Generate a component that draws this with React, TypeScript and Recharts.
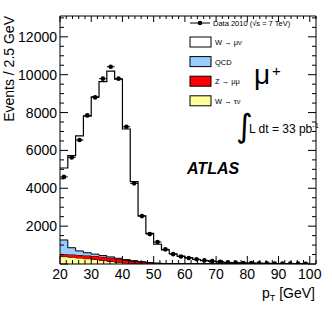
import { Area, ComposedChart, ErrorBar, Scatter, XAxis, YAxis } from 'recharts';

// bin lower edges (GeV), 2.5 GeV wide
const binLow = [
  20, 22.5, 25, 27.5, 30, 32.5, 35, 37.5, 40, 42.5, 45, 47.5, 50, 52.5, 55, 57.5,
  60, 62.5, 65, 67.5, 70, 72.5, 75, 77.5, 80, 82.5, 85, 87.5, 90, 92.5, 95, 97.5,
];
const binWidth = 2.5;
const lastEdge = 100;

// MC stack (events per bin)
const wTauNu = [390, 360, 320, 280, 240, 190, 140, 90, 50, 25, 12, 6, 3, 2, 1, 1, 0, 0, 0, 0, 0, 0, 0, 0, 0, 0, 0, 0, 0, 0, 0, 0];
const zMuMu = [120, 140, 160, 175, 185, 190, 190, 180, 160, 130, 95, 60, 35, 20, 12, 8, 5, 3, 2, 1, 1, 1, 0, 0, 0, 0, 0, 0, 0, 0, 0, 0];
const qcd = [760, 360, 210, 140, 95, 65, 45, 30, 20, 14, 10, 7, 5, 4, 3, 2, 2, 1, 1, 1, 1, 0, 0, 0, 0, 0, 0, 0, 0, 0, 0, 0];
const wMuNu = [
  3800, 4860, 6080, 7215, 8310, 9185, 9815, 9470, 6900, 4180, 2430, 1550, 1000, 715, 525, 410,
  325, 235, 178, 138, 103, 79, 65, 52, 44, 37, 31, 27, 23, 20, 17, 15,
];

// data 2010
const dataCounts = [
  4600, 5630, 6550, 7850, 8800, 9790, 10420, 9790, 7250, 4260, 2530, 1580, 1160, 775, 520, 400,
  320, 250, 190, 150, 110, 85, 70, 55, 45, 40, 32, 28, 24, 20, 18, 15,
];

const xMajorTicks = [20, 30, 40, 50, 60, 70, 80, 90, 100];
const xMinorTicks = [
  22, 24, 26, 28, 32, 34, 36, 38, 42, 44, 46, 48, 52, 54, 56, 58, 62, 64, 66, 68,
  72, 74, 76, 78, 82, 84, 86, 88, 92, 94, 96, 98, 102,
];
const yMajorTicks = [0, 2000, 4000, 6000, 8000, 10000, 12000];
const yMinorTicks = [
  500, 1000, 1500, 2500, 3000, 3500, 4500, 5000, 5500, 6500, 7000, 7500, 8500, 9000, 9500,
  10500, 11000, 11500, 12500, 13000,
];

const legendRows = [
  { label: 'W → μν', color: '#ffffff' },
  { label: 'QCD', color: '#99ccff' },
  { label: 'Z → μμ', color: '#ff0000' },
  { label: 'W → τν', color: '#ffff99' },
];

const FONT = '"Liberation Sans", Arial, sans-serif';

const stackRows = [
  ...binLow.map((x, i) => ({ x, tau: wTauNu[i], z: zMuMu[i], qcd: qcd[i], w: wMuNu[i] })),
  { x: lastEdge, tau: wTauNu[31], z: zMuMu[31], qcd: qcd[31], w: wMuNu[31] },
];
const dataPoints = binLow.map((x, i) => ({ x: x + binWidth / 2, y: dataCounts[i], xerr: binWidth / 2 }));

const xTicks = [...xMajorTicks, ...xMinorTicks].sort((a, b) => a - b);
const yTicks = [...yMajorTicks, ...yMinorTicks].sort((a, b) => a - b);

function BottomTick(props: any) {
  const { x, y, payload } = props;
  const major = xMajorTicks.includes(payload.value);
  return (
    <g>
      <line x1={x} x2={x} y1={y} y2={y - (major ? 8 : 4)} stroke="#000" />
      {major && (
        <text x={x} y={y + 15} textAnchor="middle" fontSize={14} fontFamily={FONT} fill="#000">
          {payload.value}
        </text>
      )}
    </g>
  );
}

function TopTick(props: any) {
  const { x, y, payload } = props;
  const major = xMajorTicks.includes(payload.value);
  return <line x1={x} x2={x} y1={y} y2={y + (major ? 6 : 3)} stroke="#000" />;
}

function LeftTick(props: any) {
  const { x, y, payload } = props;
  const major = yMajorTicks.includes(payload.value);
  return (
    <g>
      <line x1={x} x2={x + (major ? 8 : 4)} y1={y} y2={y} stroke="#000" />
      {major && payload.value > 0 && (
        <text x={x - 3} y={y + 5} textAnchor="end" fontSize={14} fontFamily={FONT} fill="#000">
          {payload.value}
        </text>
      )}
    </g>
  );
}

function RightTick(props: any) {
  const { x, y, payload } = props;
  const major = yMajorTicks.includes(payload.value);
  return <line x1={x} x2={x - (major ? 8 : 4)} y1={y} y2={y} stroke="#000" />;
}

export default function App() {
  return (
    <div style={{ position: 'absolute', left: 0, top: 0, width: 332, height: 316, background: '#fff' }}>
      <ComposedChart
        width={332}
        height={316}
        data={stackRows}
        margin={{ top: 15, right: 15, bottom: 51, left: 59 }}
      >
        <XAxis
          dataKey="x"
          type="number"
          domain={[20, 102]}
          allowDataOverflow
          ticks={xTicks}
          interval={0}
          height={1}
          tickSize={0}
          tickMargin={0}
          tickLine={false}
          axisLine={{ stroke: '#000' }}
          tick={<BottomTick />}
        />
        <XAxis
          xAxisId="top"
          orientation="top"
          dataKey="x"
          type="number"
          domain={[20, 102]}
          allowDataOverflow
          ticks={xTicks}
          interval={0}
          height={1}
          tickSize={0}
          tickMargin={0}
          tickLine={false}
          axisLine={{ stroke: '#000' }}
          tick={<TopTick />}
        />
        <YAxis
          type="number"
          domain={[0, 13100]}
          allowDataOverflow
          ticks={yTicks}
          interval={0}
          width={1}
          tickSize={0}
          tickMargin={0}
          tickLine={false}
          axisLine={{ stroke: '#000' }}
          tick={<LeftTick />}
        />
        <YAxis
          yAxisId="right"
          orientation="right"
          type="number"
          domain={[0, 13100]}
          allowDataOverflow
          ticks={yTicks}
          interval={0}
          width={1}
          tickSize={0}
          tickMargin={0}
          tickLine={false}
          axisLine={{ stroke: '#000' }}
          tick={<RightTick />}
        />
        <Area type="stepAfter" dataKey="tau" stackId="mc" fill="#ffff99" fillOpacity={1} stroke="#000" strokeWidth={1} isAnimationActive={false} />
        <Area type="stepAfter" dataKey="z" stackId="mc" fill="#ff0000" fillOpacity={1} stroke="#000" strokeWidth={1} isAnimationActive={false} />
        <Area type="stepAfter" dataKey="qcd" stackId="mc" fill="#99ccff" fillOpacity={1} stroke="#000" strokeWidth={1} isAnimationActive={false} />
        <Area type="stepAfter" dataKey="w" stackId="mc" fill="#ffffff" fillOpacity={0} stroke="#000" strokeWidth={1.2} isAnimationActive={false} />
        <Scatter
          data={dataPoints}
          dataKey="y"
          fill="#000"
          isAnimationActive={false}
          shape={(p: any) => <circle cx={p.cx} cy={p.cy} r={2.3} fill="#000" />}
        >
          <ErrorBar dataKey="xerr" direction="x" width={0} stroke="#000" strokeWidth={1} />
        </Scatter>
      </ComposedChart>

      <svg width={332} height={316} style={{ position: 'absolute', left: 0, top: 0, pointerEvents: 'none' }} fontFamily={FONT}>
        <text transform="translate(14,16) rotate(-90)" textAnchor="end" fontSize={14} fill="#000">
          Events / 2.5 GeV
        </text>
        <text x={315} y={298} textAnchor="end" fontSize={14} fill="#000">
          p<tspan dy={3} fontSize={9}>T</tspan>
          <tspan dy={-3}> [GeV]</tspan>
        </text>

        <line x1={190} x2={210} y1={23} y2={23} stroke="#000" strokeWidth={1} />
        <circle cx={200} cy={23} r={2.3} fill="#000" />
        <text x={213} y={26} fontSize={7.5} fill="#000">Data 2010 (√s = 7 TeV)</text>
        {legendRows.map((row, i) => {
          const cy = 42 + i * 19.6;
          return (
            <g key={row.label}>
              <rect x={190} y={cy - 5} width={21} height={10} fill={row.color} stroke="#000" strokeWidth={1} />
              <text x={215} y={cy + 3} fontSize={7.5} fill="#000">{row.label}</text>
            </g>
          );
        })}

        <text x={254} y={84} fontSize={28} fill="#000">μ</text>
        <text x={272} y={76} fontSize={15} fill="#000">+</text>

        <text x={236} y={137} fontSize={32} fontFamily='"DejaVu Sans", sans-serif' fill="#000">∫</text>
        <text x={249} y={133} fontSize={12} fill="#000">
          L dt = 33 pb<tspan dy={-5} fontSize={7.5}>-1</tspan>
        </text>

        <text x={187} y={174} fontSize={16} fontWeight="bold" fontStyle="italic" fill="#000">ATLAS</text>
      </svg>
    </div>
  );
}
